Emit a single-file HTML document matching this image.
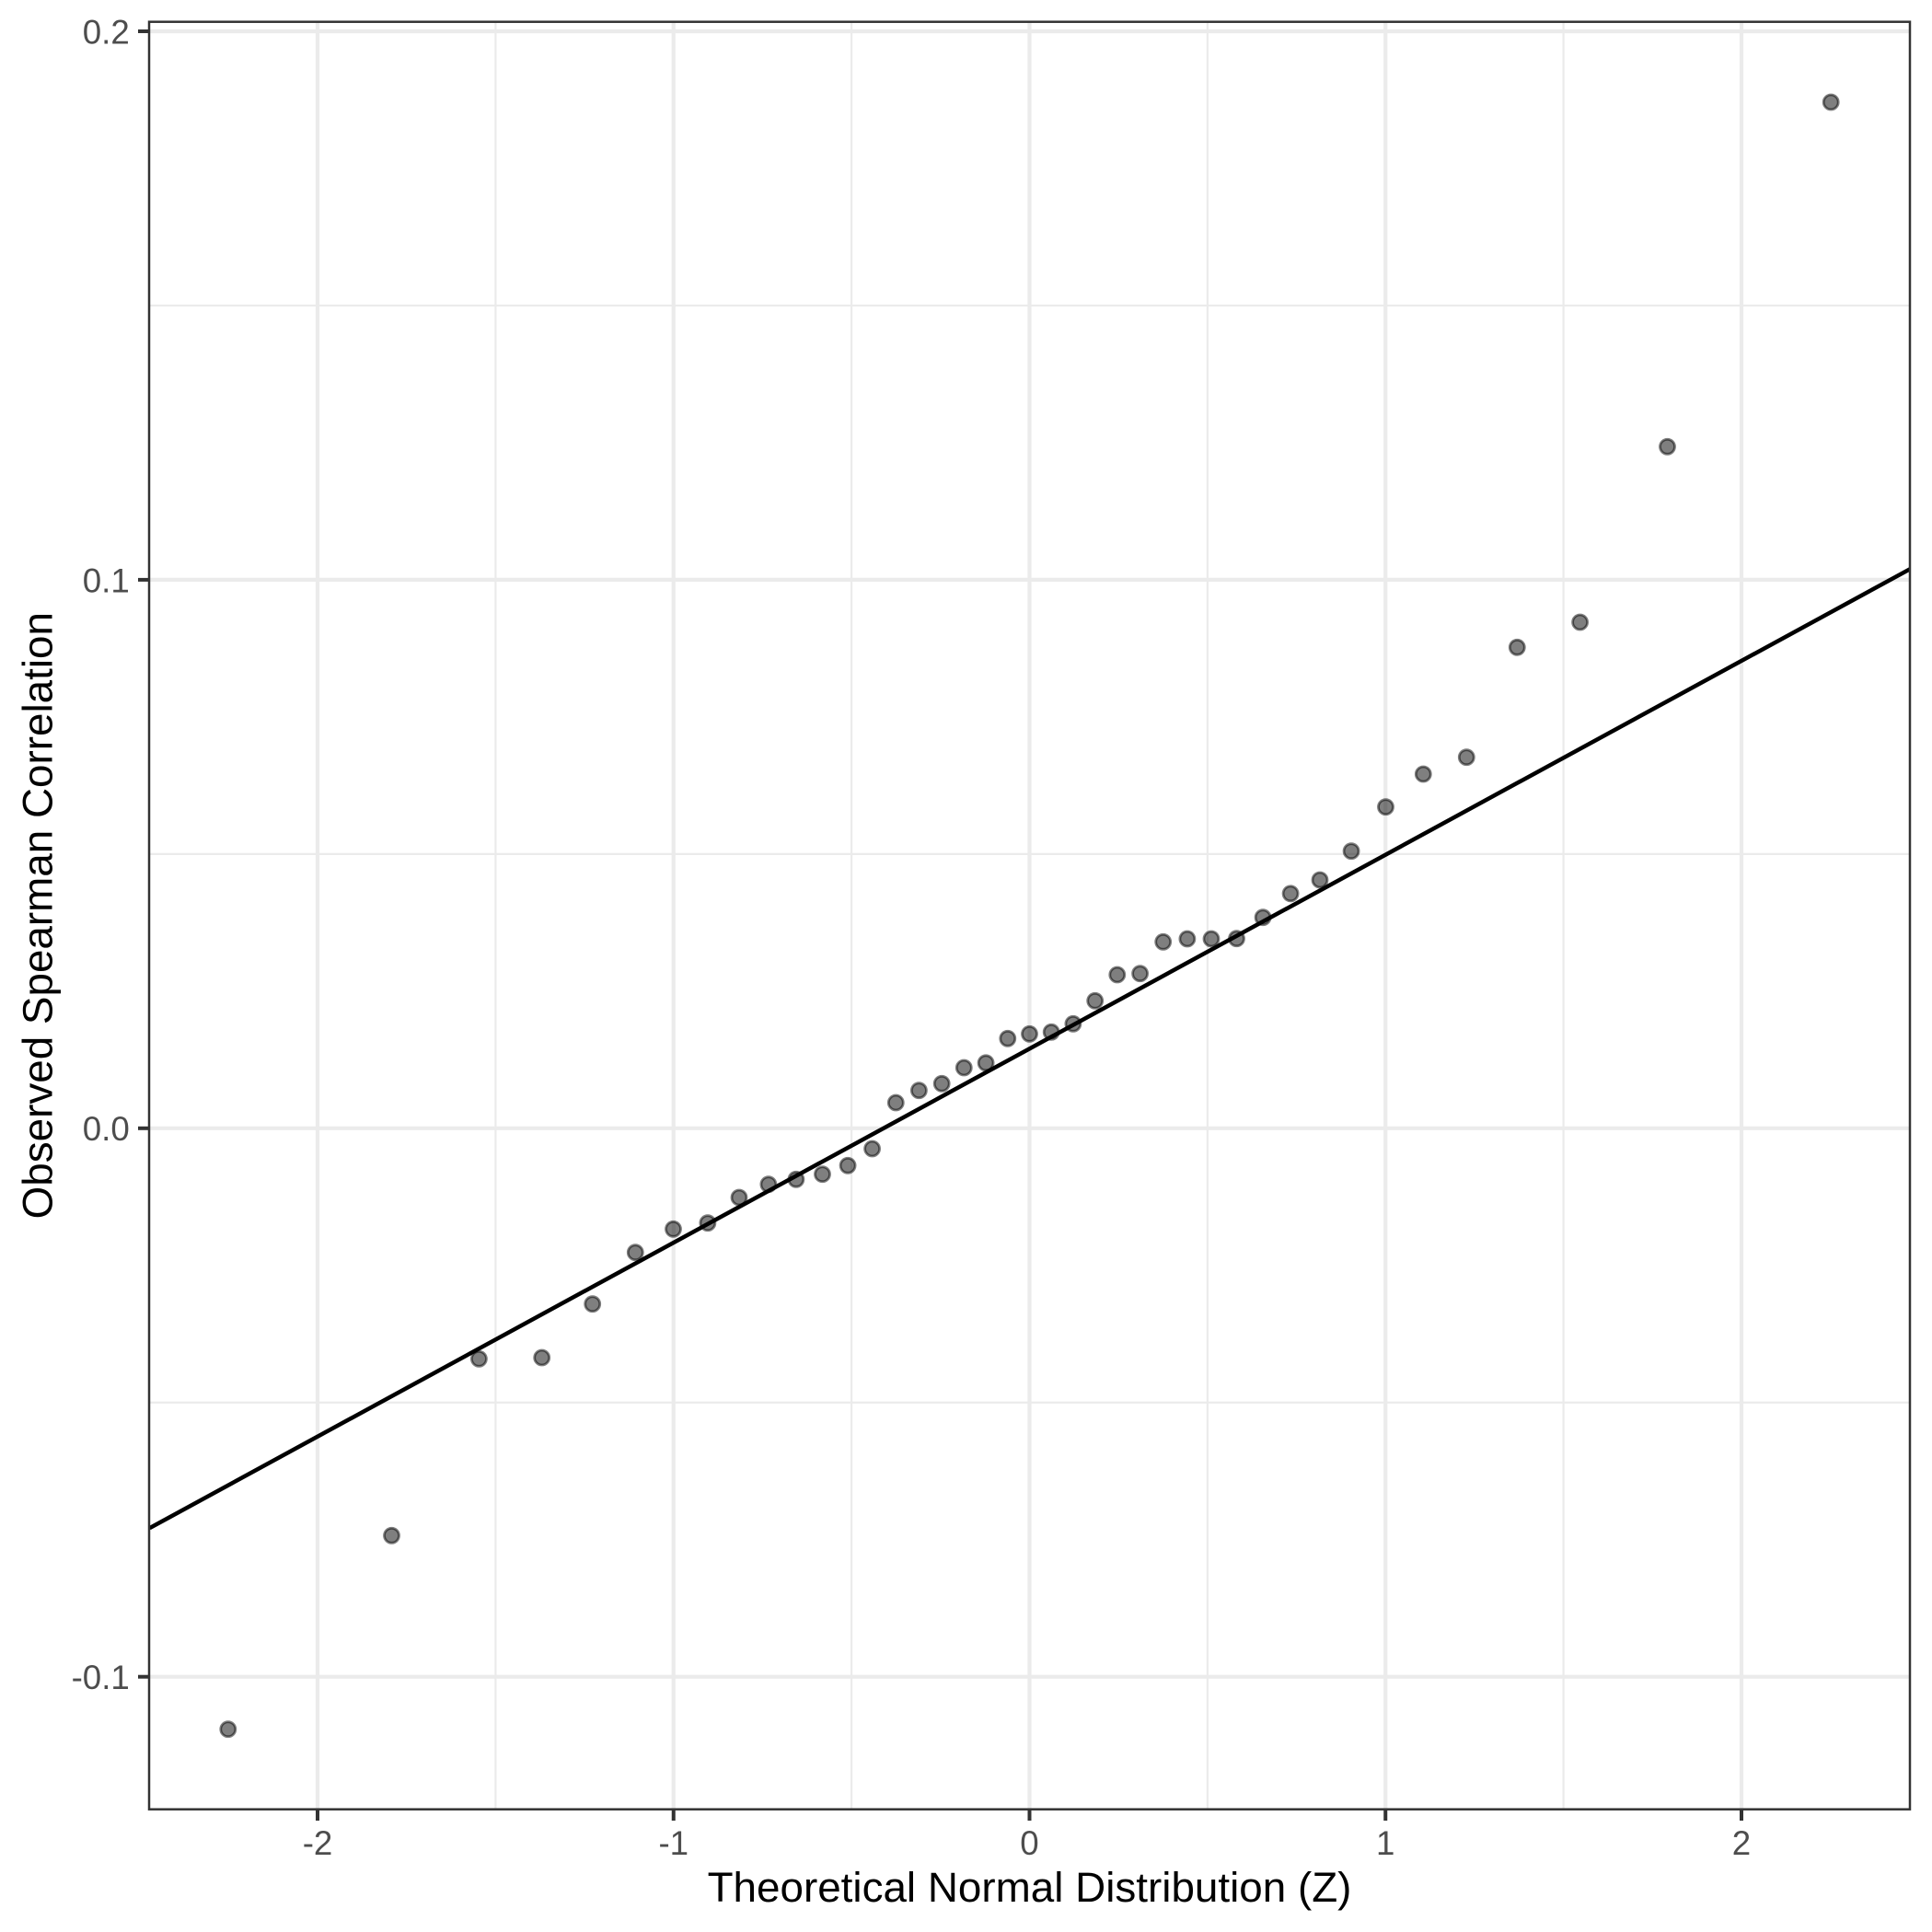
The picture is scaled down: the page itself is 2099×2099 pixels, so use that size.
<!DOCTYPE html>
<html><head><meta charset="utf-8"><style>
html,body{margin:0;padding:0;background:#fff;}
svg{display:block;}
text{font-family:"Liberation Sans",Arial,sans-serif;}
</style></head><body>
<svg width="2099" height="2099" viewBox="0 0 2099 2099" xmlns="http://www.w3.org/2000/svg">
<rect x="0" y="0" width="2099" height="2099" fill="#fff"/>
<g stroke="#EBEBEB" stroke-width="2.2" fill="none">
<line x1="162" y1="331.95" x2="2075" y2="331.95"/>
<line x1="162" y1="927.85" x2="2075" y2="927.85"/>
<line x1="162" y1="1523.75" x2="2075" y2="1523.75"/>
<line x1="538.4" y1="23.7" x2="538.4" y2="1965.7"/>
<line x1="925.1" y1="23.7" x2="925.1" y2="1965.7"/>
<line x1="1311.9" y1="23.7" x2="1311.9" y2="1965.7"/>
<line x1="1698.6" y1="23.7" x2="1698.6" y2="1965.7"/>
</g>
<g stroke="#EBEBEB" stroke-width="4.2" fill="none">
<line x1="162" y1="34" x2="2075" y2="34"/>
<line x1="162" y1="629.9" x2="2075" y2="629.9"/>
<line x1="162" y1="1225.8" x2="2075" y2="1225.8"/>
<line x1="162" y1="1821.7" x2="2075" y2="1821.7"/>
<line x1="345" y1="23.7" x2="345" y2="1965.7"/>
<line x1="731.75" y1="23.7" x2="731.75" y2="1965.7"/>
<line x1="1118.5" y1="23.7" x2="1118.5" y2="1965.7"/>
<line x1="1505.25" y1="23.7" x2="1505.25" y2="1965.7"/>
<line x1="1892" y1="23.7" x2="1892" y2="1965.7"/>
</g>
<g fill="rgba(0,0,0,0.5)" stroke="rgba(0,0,0,0.5)" stroke-width="2.8">
<circle cx="247.8" cy="1878.7" r="8"/>
<circle cx="425.5" cy="1668.3" r="8"/>
<circle cx="520.4" cy="1476.3" r="8"/>
<circle cx="588.7" cy="1475.0" r="8"/>
<circle cx="643.7" cy="1416.7" r="8"/>
<circle cx="690.3" cy="1360.7" r="8"/>
<circle cx="731.5" cy="1335.3" r="8"/>
<circle cx="768.9" cy="1328.7" r="8"/>
<circle cx="803.0" cy="1301.0" r="8"/>
<circle cx="834.9" cy="1286.7" r="8"/>
<circle cx="864.9" cy="1281.3" r="8"/>
<circle cx="893.5" cy="1275.7" r="8"/>
<circle cx="921.1" cy="1266.3" r="8"/>
<circle cx="947.6" cy="1248.0" r="8"/>
<circle cx="973.3" cy="1198.0" r="8"/>
<circle cx="998.4" cy="1184.7" r="8"/>
<circle cx="1023.2" cy="1177.3" r="8"/>
<circle cx="1047.3" cy="1160.0" r="8"/>
<circle cx="1071.1" cy="1154.8" r="8"/>
<circle cx="1094.8" cy="1128.3" r="8"/>
<circle cx="1118.5" cy="1123.3" r="8"/>
<circle cx="1142.2" cy="1121.3" r="8"/>
<circle cx="1165.9" cy="1112.3" r="8"/>
<circle cx="1189.7" cy="1087.3" r="8"/>
<circle cx="1213.8" cy="1059.0" r="8"/>
<circle cx="1238.6" cy="1057.7" r="8"/>
<circle cx="1263.7" cy="1023.3" r="8"/>
<circle cx="1289.9" cy="1020.0" r="8"/>
<circle cx="1316.0" cy="1020.0" r="8"/>
<circle cx="1343.5" cy="1019.7" r="8"/>
<circle cx="1372.1" cy="996.7" r="8"/>
<circle cx="1402.1" cy="970.8" r="8"/>
<circle cx="1434.0" cy="956.0" r="8"/>
<circle cx="1468.1" cy="924.7" r="8"/>
<circle cx="1505.5" cy="876.7" r="8"/>
<circle cx="1546.3" cy="841.0" r="8"/>
<circle cx="1593.3" cy="822.7" r="8"/>
<circle cx="1648.3" cy="703.3" r="8"/>
<circle cx="1716.6" cy="676.0" r="8"/>
<circle cx="1811.5" cy="485.3" r="8"/>
<circle cx="1989.2" cy="111.0" r="8"/>
</g>
<line x1="162.5" y1="1660.2" x2="2075" y2="618.3" stroke="#000" stroke-width="4.5"/>
<rect x="162" y="23.7" width="1913" height="1942" fill="none" stroke="#333333" stroke-width="2.5"/>
<g stroke="#333333" stroke-width="4">
<line x1="150" y1="34" x2="162" y2="34"/>
<line x1="150" y1="629.9" x2="162" y2="629.9"/>
<line x1="150" y1="1225.8" x2="162" y2="1225.8"/>
<line x1="150" y1="1821.7" x2="162" y2="1821.7"/>
<line x1="345" y1="1965.7" x2="345" y2="1978"/>
<line x1="731.75" y1="1965.7" x2="731.75" y2="1978"/>
<line x1="1118.5" y1="1965.7" x2="1118.5" y2="1978"/>
<line x1="1505.25" y1="1965.7" x2="1505.25" y2="1978"/>
<line x1="1892" y1="1965.7" x2="1892" y2="1978"/>
</g>
<g fill="#4D4D4D" font-size="36.7" text-anchor="end">
<text x="140.8" y="47.4">0.2</text>
<text x="140.8" y="643.3">0.1</text>
<text x="140.8" y="1239.2">0.0</text>
<text x="140.8" y="1835.1">-0.1</text>
</g>
<g fill="#4D4D4D" font-size="36.7" text-anchor="middle">
<text x="345" y="2015">-2</text>
<text x="731.75" y="2015">-1</text>
<text x="1118.5" y="2015">0</text>
<text x="1505.25" y="2015">1</text>
<text x="1892" y="2015">2</text>
</g>
<text x="1118.5" y="2066" font-size="45.8" fill="#000" text-anchor="middle">Theoretical Normal Distribution (Z)</text>
<text transform="translate(56.5,994.7) rotate(-90)" font-size="45.8" fill="#000" text-anchor="middle">Observed Spearman Correlation</text>
</svg>
</body></html>
